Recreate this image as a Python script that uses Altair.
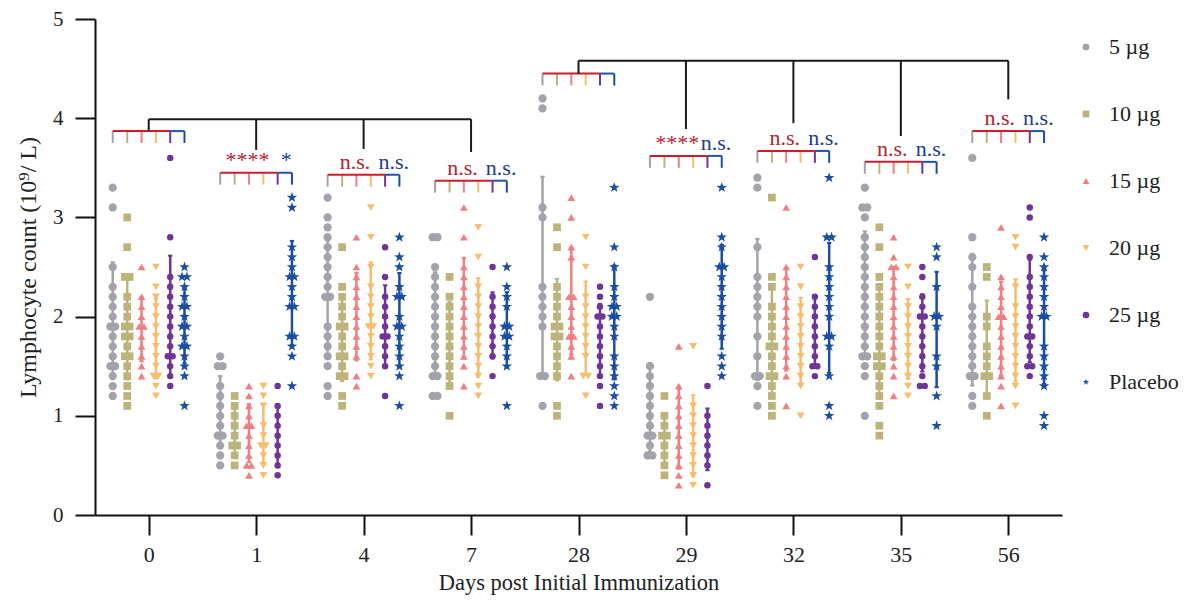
import altair as alt
import pandas as pd

DAYS = ["0", "1", "4", "7", "28", "29", "32", "35", "56"]
GROUPS = ["5 µg", "10 µg", "15 µg", "20 µg", "25 µg", "Placebo"]
COLORS = ["#a3a3ab", "#bdb47c", "#ef7f82", "#f7bd6c", "#6e3596", "#1a4ea2"]
STAR = "M0,-1L0.235,-0.324L0.951,-0.309L0.38,0.124L0.588,0.809L0,0.4L-0.588,0.809L-0.38,0.124L-0.951,-0.309L-0.235,-0.324Z"
SHAPES = ["circle", "square", "triangle-up", "triangle-down", "circle", STAR]
SIZES = [68, 60, 60, 60, 42, 120]
GROUP_OFFSET = [-0.335, -0.2, -0.067, 0.067, 0.2, 0.333]

# values per group, one list per day (0, 1, 4, 7, 28, 29, 32, 35, 56)
V_5UG = [
    [3.3, 3.1, 2.5, 2.3, 2.2, 2.1, 2.0, 1.9, 1.9, 1.8, 1.7, 1.6, 1.5, 1.5, 1.4, 1.3, 1.2],
    [1.6, 1.5, 1.5, 1.3, 1.2, 1.1, 1.0, 0.9, 0.8, 0.8, 0.7, 0.6, 0.5],
    [3.2, 3.0, 2.9, 2.8, 2.7, 2.6, 2.5, 2.4, 2.3, 2.2, 2.2, 1.9, 1.8, 1.7, 1.6, 1.5, 1.3, 1.2],
    [2.8, 2.8, 2.5, 2.4, 2.3, 2.2, 2.1, 2.0, 1.9, 1.8, 1.7, 1.6, 1.5, 1.4, 1.4, 1.2, 1.2],
    [4.2, 4.1, 3.1, 3.0, 2.3, 2.2, 2.1, 2.0, 1.9, 1.4, 1.4, 1.1],
    [2.2, 1.5, 1.4, 1.3, 1.2, 1.1, 1.0, 0.9, 0.8, 0.8, 0.7, 0.6, 0.6],
    [3.4, 3.3, 2.7, 2.4, 2.3, 2.2, 2.1, 2.0, 1.8, 1.6, 1.4, 1.4, 1.3, 1.1],
    [3.3, 3.1, 3.1, 3.0, 2.8, 2.7, 2.6, 2.5, 2.4, 2.3, 2.2, 2.1, 2.0, 1.9, 1.8, 1.7, 1.6, 1.6, 1.5, 1.4, 1.0],
    [3.6, 2.8, 2.6, 2.5, 2.3, 2.1, 2.0, 1.9, 1.8, 1.7, 1.6, 1.5, 1.4, 1.4, 1.2, 1.1],
]
V_10UG = [
    [3.0, 2.7, 2.4, 2.4, 2.2, 2.1, 2.0, 1.9, 1.9, 1.8, 1.8, 1.7, 1.6, 1.6, 1.5, 1.4, 1.3, 1.2, 1.1],
    [1.2, 1.1, 1.0, 0.9, 0.8, 0.7, 0.7, 0.6, 0.5],
    [2.7, 2.3, 2.2, 2.1, 2.0, 1.9, 1.9, 1.8, 1.7, 1.6, 1.6, 1.5, 1.4, 1.4, 1.2, 1.1],
    [2.4, 2.2, 2.1, 2.0, 1.9, 1.8, 1.7, 1.6, 1.5, 1.4, 1.3, 1.0],
    [2.9, 2.7, 2.3, 2.2, 2.1, 2.0, 1.9, 1.9, 1.8, 1.8, 1.7, 1.6, 1.5, 1.4, 1.1, 1.0],
    [1.2, 1.0, 0.9, 0.8, 0.8, 0.7, 0.6, 0.5, 0.4],
    [3.2, 2.4, 2.3, 2.1, 2.0, 1.9, 1.8, 1.7, 1.7, 1.6, 1.5, 1.4, 1.4, 1.3, 1.2, 1.1, 1.0],
    [2.9, 2.7, 2.4, 2.3, 2.2, 2.1, 2.0, 1.9, 1.8, 1.7, 1.6, 1.6, 1.5, 1.5, 1.4, 1.3, 1.2, 1.1, 0.9, 0.8],
    [2.5, 2.4, 2.0, 1.9, 1.7, 1.6, 1.5, 1.4, 1.4, 1.2, 1.0],
]
V_15UG = [
    [2.5, 2.2, 2.1, 2.0, 1.9, 1.9, 1.8, 1.7, 1.6, 1.5, 1.4],
    [1.3, 1.2, 1.1, 1.0, 0.9, 0.9, 0.8, 0.7, 0.6, 0.5, 0.5, 0.4],
    [2.8, 2.5, 2.4, 2.3, 2.2, 2.1, 2.0, 1.9, 1.8, 1.7, 1.6, 1.4, 1.3],
    [3.1, 2.8, 2.5, 2.4, 2.3, 2.2, 2.1, 2.0, 1.9, 1.8, 1.7, 1.6, 1.5, 1.3],
    [3.2, 3.0, 2.7, 2.6, 2.2, 2.2, 2.1, 2.0, 1.9, 1.8, 1.8, 1.7, 1.6, 1.4],
    [1.7, 1.3, 1.2, 1.1, 1.0, 0.9, 0.8, 0.7, 0.6, 0.5, 0.4, 0.3],
    [3.1, 2.5, 2.4, 2.3, 2.2, 2.1, 2.0, 1.9, 1.8, 1.7, 1.6, 1.5, 1.4, 1.1],
    [2.8, 2.6, 2.5, 2.5, 2.4, 2.3, 2.2, 2.1, 2.0, 1.9, 1.8, 1.7, 1.6, 1.5, 1.4, 1.2],
    [2.9, 2.4, 2.3, 2.2, 2.1, 2.0, 2.0, 1.9, 1.8, 1.7, 1.6, 1.5, 1.4, 1.3, 1.1],
]
V_20UG = [
    [2.5, 2.3, 2.2, 2.1, 2.0, 1.9, 1.8, 1.7, 1.6, 1.5, 1.4, 1.4, 1.3, 1.2],
    [1.3, 1.2, 1.1, 0.9, 0.8, 0.7, 0.7, 0.6, 0.5, 0.4],
    [3.1, 2.8, 2.5, 2.3, 2.2, 2.1, 2.0, 1.9, 1.9, 1.8, 1.7, 1.6, 1.5, 1.4],
    [2.9, 2.6, 2.3, 2.2, 2.1, 2.0, 1.9, 1.8, 1.7, 1.6, 1.5, 1.4, 1.3, 1.2],
    [2.8, 2.5, 2.2, 2.1, 2.0, 1.9, 1.8, 1.7, 1.6, 1.4, 1.4, 1.2],
    [1.7, 1.1, 1.0, 0.9, 0.8, 0.7, 0.6, 0.5, 0.4, 0.3],
    [2.5, 2.3, 2.1, 2.0, 1.9, 1.8, 1.7, 1.6, 1.5, 1.4, 1.3, 1.0],
    [2.5, 2.3, 2.1, 2.0, 1.9, 1.8, 1.7, 1.6, 1.5, 1.4, 1.3, 1.2],
    [2.8, 2.7, 2.3, 2.1, 2.0, 1.9, 1.8, 1.7, 1.6, 1.5, 1.4, 1.3, 1.1],
]
V_25UG = [
    [3.6, 2.8, 2.4, 2.3, 2.2, 2.1, 2.0, 1.9, 1.8, 1.7, 1.6, 1.6, 1.5, 1.4, 1.3],
    [1.3, 1.1, 1.0, 0.9, 0.8, 0.7, 0.6, 0.5, 0.4],
    [2.7, 2.4, 2.2, 2.1, 2.0, 1.9, 1.8, 1.8, 1.7, 1.6, 1.5, 1.2],
    [2.5, 2.2, 2.1, 2.0, 1.9, 1.8, 1.7, 1.6, 1.4],
    [2.3, 2.2, 2.1, 2.0, 2.0, 1.9, 1.8, 1.7, 1.6, 1.5, 1.4, 1.3, 1.1],
    [1.3, 1.0, 0.9, 0.8, 0.7, 0.6, 0.5, 0.3],
    [2.6, 2.2, 2.1, 2.0, 1.9, 1.8, 1.7, 1.6, 1.5, 1.5, 1.4],
    [2.5, 2.4, 2.2, 2.1, 2.0, 2.0, 1.9, 1.8, 1.7, 1.6, 1.5, 1.4, 1.3, 1.3],
    [3.1, 3.0, 2.6, 2.4, 2.3, 2.2, 2.1, 2.0, 1.9, 1.8, 1.8, 1.7, 1.6, 1.5, 1.5, 1.4],
]
V_PLACEBO = [
    [2.5, 2.4, 2.4, 2.3, 2.2, 2.1, 2.1, 2.0, 1.9, 1.9, 1.8, 1.7, 1.7, 1.6, 1.5, 1.4, 1.1],
    [3.2, 3.1, 2.7, 2.6, 2.5, 2.4, 2.4, 2.3, 2.2, 2.1, 2.1, 1.8, 1.8, 1.7, 1.6, 1.3],
    [2.8, 2.6, 2.5, 2.3, 2.2, 2.2, 2.0, 1.9, 1.9, 1.8, 1.7, 1.6, 1.5, 1.4, 1.1],
    [2.5, 2.3, 2.2, 2.1, 1.9, 1.9, 1.8, 1.8, 1.7, 1.6, 1.5, 1.1],
    [3.3, 2.7, 2.5, 2.3, 2.2, 2.1, 2.1, 2.0, 2.0, 1.9, 1.8, 1.6, 1.5, 1.4, 1.3, 1.2, 1.1],
    [3.3, 2.8, 2.7, 2.5, 2.5, 2.4, 2.3, 2.2, 2.1, 2.0, 1.9, 1.8, 1.6, 1.5, 1.4],
    [3.4, 2.8, 2.8, 2.5, 2.4, 2.3, 2.2, 2.1, 2.0, 1.8, 1.8, 1.7, 1.4, 1.1, 1.0],
    [2.7, 2.6, 2.3, 2.0, 2.0, 1.9, 1.6, 1.5, 1.2, 0.9],
    [2.8, 2.6, 2.5, 2.4, 2.3, 2.2, 2.1, 2.0, 2.0, 1.7, 1.6, 1.5, 1.4, 1.3, 1.0, 0.9],
]
SERIES = [V_5UG, V_10UG, V_15UG, V_20UG, V_25UG, V_PLACEBO]

# significance annotations per day
BRACKET_Y = [3.87, 3.45, 3.43, 3.37, 4.45, 3.62, 3.67, 3.56, 3.87]
RED_LABELS = ["", "****", "n.s.", "n.s.", "", "****", "n.s.", "n.s.", "n.s."]
BLUE_LABELS = ["", "*", "n.s.", "n.s.", "", "n.s.", "n.s.", "n.s.", "n.s."]
TOP_LEVEL = [3.99, 3.99, 3.99, 3.99, 4.58, 4.58, 4.58, 4.58, 4.58]
DROP_END = [3.87, 3.68, 3.69, 3.66, 4.45, 3.89, 3.95, 3.82, 4.19]
TOP_SPANS = [(0, 3, 3.99), (4, 8, 4.58)]

RED = "#cf1b2d"
RED_TXT = "#b3232f"
BLUE = "#2152ad"
BLUE_TXT = "#223c8a"
BLACK = "#1a1a1a"
TICK_LEN = 0.12
DUP_STEP = 0.045
FONT = "Liberation Serif"

# ---- point table
rows = []
for gi, series in enumerate(SERIES):
    for di, vals in enumerate(series):
        for v in vals:
            rows.append(dict(group=GROUPS[gi], gi=gi, di=di, value=v, hex=COLORS[gi], sz=SIZES[gi]))
pts = pd.DataFrame(rows)
pts["base"] = pts["di"] + pts["gi"].map(lambda g: GROUP_OFFSET[g])
grp = pts.groupby(["gi", "di", "value"])
pts["k"] = grp.cumcount()
pts["n"] = grp["value"].transform("count")
pts["pos"] = pts["base"] + (pts["k"] - (pts["n"] - 1) / 2) * DUP_STEP

# ---- bracket segments
seg = []
for di in range(len(DAYS)):
    y = BRACKET_Y[di]
    xs = [di + o for o in GROUP_OFFSET]
    for gi in range(6):
        seg.append(dict(x=xs[gi], x2=xs[gi], y=y, y2=y - TICK_LEN, hex=COLORS[gi], order=0))
    seg.append(dict(x=xs[0], x2=xs[4], y=y, y2=y, hex=RED, order=1))
    seg.append(dict(x=xs[4], x2=xs[5], y=y, y2=y, hex=BLUE, order=1))
    seg.append(dict(x=di, x2=di, y=TOP_LEVEL[di], y2=DROP_END[di], hex=BLACK, order=1))
for a, b, lvl in TOP_SPANS:
    seg.append(dict(x=a, x2=b, y=lvl, y2=lvl, hex=BLACK, order=1))
segs = pd.DataFrame(seg)

txt = []
for di in range(len(DAYS)):
    if RED_LABELS[di]:
        txt.append(dict(x=di - 0.08, y=BRACKET_Y[di] + 0.06, t=RED_LABELS[di], hex=RED_TXT))
    if BLUE_LABELS[di]:
        txt.append(dict(x=di + 0.28, y=BRACKET_Y[di] + 0.06, t=BLUE_LABELS[di], hex=BLUE_TXT))
txts = pd.DataFrame(txt)

xscale = alt.Scale(domain=[-0.5, 8.5], nice=False, zero=False)
yscale = alt.Scale(domain=[0, 5], nice=False, zero=True)

day_expr = "[" + ",".join("'%s'" % d for d in DAYS) + "][datum.value]"

X_AXIS = alt.Axis(
    values=list(range(len(DAYS))), labelExpr=day_expr, title="Days post Initial Immunization",
    grid=False, domainColor="#111", domainWidth=2, tickColor="#111", tickWidth=2, tickSize=20,
    labelFont=FONT, labelFontSize=22, labelColor="#222", labelPadding=9,
    titleFont=FONT, titleFontSize=22.5, titleFontWeight="normal", titleColor="#222", titlePadding=6,
)
Y_AXIS = alt.Axis(
    values=[0, 1, 2, 3, 4, 5], title="Lymphocyte count (10⁹/ L)", grid=False,
    domainColor="#111", domainWidth=2, tickColor="#111", tickWidth=2, tickSize=20,
    labelFont=FONT, labelFontSize=21, labelColor="#222", labelPadding=12,
    titleFont=FONT, titleFontSize=24, titleFontWeight="normal", titleColor="#222", titlePadding=12,
)


def X(field):
    return alt.X(field, scale=xscale, axis=X_AXIS, title="Days post Initial Immunization")


def Y(field):
    return alt.Y(field, scale=yscale, axis=Y_AXIS, title="Lymphocyte count (10⁹/ L)")


legend = alt.Legend(
    title=None, orient="none", legendX=980, legendY=17, direction="vertical",
    labelFont=FONT, labelFontSize=22, labelColor="#222", symbolSize=45,
    rowPadding=45, labelOffset=12, padding=0, symbolStrokeWidth=0,
)

base_pts = alt.Chart(pts)

err = base_pts.transform_aggregate(
    m="mean(value)", sd="stdev(value)", groupby=["gi", "di", "base", "hex"]
).transform_calculate(lo="datum.m - datum.sd", hi="datum.m + datum.sd")

err_rule = err.mark_rule(strokeWidth=2.5).encode(
    x=X("base:Q"),
    y=Y("lo:Q"),
    y2="hi:Q",
    color=alt.Color("hex:N", scale=None),
)
err_caps = err.transform_calculate(
    xl="datum.base - 0.02", xr="datum.base + 0.02"
).transform_fold(["lo", "hi"], as_=["end", "yy"]).mark_rule(strokeWidth=2).encode(
    x=X("xl:Q"),
    x2="xr:Q",
    y=Y("yy:Q"),
    color=alt.Color("hex:N", scale=None),
)

points = base_pts.mark_point(filled=True, opacity=1, strokeWidth=0).encode(
    x=X("pos:Q"),
    y=Y("value:Q"),
    color=alt.Color("group:N", scale=alt.Scale(domain=GROUPS, range=COLORS), legend=legend),
    shape=alt.Shape("group:N", scale=alt.Scale(domain=GROUPS, range=SHAPES), legend=legend),
    size=alt.Size("sz:Q", scale=None),
)

seg0 = alt.Chart(segs).transform_filter("datum.order == 0").mark_rule(strokeWidth=2).encode(
    x=X("x:Q"), x2="x2:Q",
    y=Y("y:Q"), y2="y2:Q",
    color=alt.Color("hex:N", scale=None),
)
seg1 = alt.Chart(segs).transform_filter("datum.order == 1").mark_rule(strokeWidth=2).encode(
    x=X("x:Q"), x2="x2:Q",
    y=Y("y:Q"), y2="y2:Q",
    color=alt.Color("hex:N", scale=None),
)

labels = alt.Chart(txts).mark_text(font=FONT, fontSize=22, baseline="alphabetic", align="center").encode(
    x=X("x:Q"),
    y=Y("y:Q"),
    text="t:N",
    color=alt.Color("hex:N", scale=None),
)

chart = alt.layer(err_rule, err_caps, points, seg0, seg1, labels).properties(
    width=967, height=496,
    autosize=alt.AutoSizeParams(type="none"),
    padding={"left": 87, "top": 11, "right": 120, "bottom": 81},
    background="white",
).configure_view(stroke=None)

chart.save("out.html", embed_options={"renderer": "svg", "actions": False})
